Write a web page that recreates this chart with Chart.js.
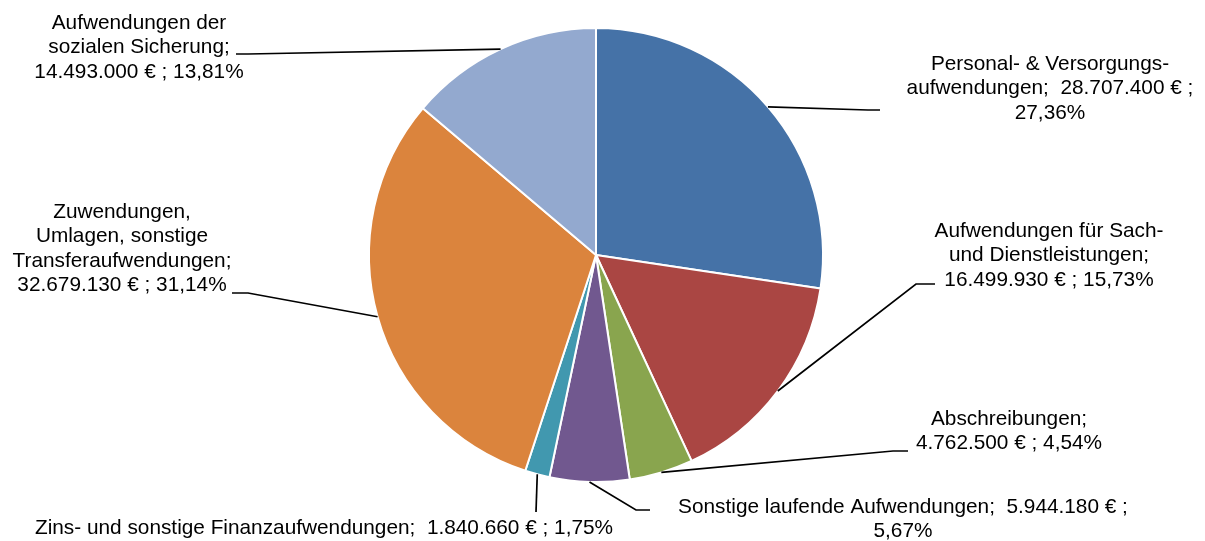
<!DOCTYPE html>
<html>
<head>
<meta charset="utf-8">
<script src="https://cdn.jsdelivr.net/npm/chart.js@4"></script>
<style>
  html, body { margin: 0; padding: 0; background: #fff; }
  #wrap { width: 1205px; height: 541px; }
</style>
</head>
<body>
<div id="wrap"><canvas id="pie" width="1205" height="541"></canvas></div>
<script>
// Daten
const categories = [
    'Personal- & Versorgungsaufwendungen',
    'Aufwendungen für Sach- und Dienstleistungen',
    'Abschreibungen',
    'Sonstige laufende Aufwendungen',
    'Zins- und sonstige Finanzaufwendungen',
    'Zuwendungen, Umlagen, sonstige Transferaufwendungen',
    'Aufwendungen der sozialen Sicherung'
];
const values = [28707400, 16499930, 4762500, 5944180, 1840660, 32679130, 14493000];
const colors = ['#4572A7', '#AA4643', '#89A54E', '#71588F', '#4198AF', '#DB843D', '#93A9CF'];

// Zeilenumbrüche der Beschriftungen ({v} = Betrag, {p} = Anteil)
const labelLines = [
    ['Personal- & Versorgungs-', 'aufwendungen;  {v} € ;', '{p}'],
    ['Aufwendungen für Sach-', 'und Dienstleistungen;', '{v} € ; {p}'],
    ['Abschreibungen;', '{v} € ; {p}'],
    ['Sonstige laufende Aufwendungen;  {v} € ;', '{p}'],
    ['Zins- und sonstige Finanzaufwendungen;  {v} € ; {p}'],
    ['Zuwendungen,', 'Umlagen, sonstige', 'Transferaufwendungen;', '{v} € ; {p}'],
    ['Aufwendungen der', 'sozialen Sicherung;', '{v} € ; {p}']
];
// Position der Beschriftung (Mitte x, y der ersten Zeile) und Knick der Führungslinie
const labelPos = [[1050, 64], [1049, 231], [1009, 419], [903, 507], [324, 528], [122, 212], [139, 23]];
const leaderBend = [[868, 110, 880], [916, 284, 935], [893, 451, 908], [636, 510, 650], [536, 512, 536], [248, 293, 232], [248, 54, 236]];

const total = values.reduce((a, b) => a + b, 0);

function fmtEuro(v) {
    return String(v).replace(/\B(?=(\d{3})+(?!\d))/g, '.');
}
function fmtPct(v) {
    return (v / total * 100).toFixed(2).replace('.', ',') + '%';
}

const labelPlugin = {
    id: 'pieLabels',
    afterDraw(chart) {
        const ctx = chart.ctx;
        const arcs = chart.getDatasetMeta(0).data;
        ctx.save();
        // Führungslinien
        ctx.strokeStyle = '#000';
        ctx.lineWidth = 1.7;
        arcs.forEach((arc, i) => {
            const mid = (arc.startAngle + arc.endAngle) / 2;
            const ax = arc.x + Math.cos(mid) * arc.outerRadius;
            const ay = arc.y + Math.sin(mid) * arc.outerRadius;
            const b = leaderBend[i];
            ctx.beginPath();
            ctx.moveTo(ax, ay);
            ctx.lineTo(b[0], b[1]);
            ctx.lineTo(b[2], b[1]);
            ctx.stroke();
        });
        // Texte
        ctx.fillStyle = '#000';
        ctx.font = '20.8px "Liberation Sans", Arial, sans-serif';
        ctx.textAlign = 'center';
        ctx.textBaseline = 'middle';
        labelLines.forEach((lines, i) => {
            const [cx, cy] = labelPos[i];
            lines.forEach((t, k) => {
                const txt = t.replace('{v}', fmtEuro(values[i])).replace('{p}', fmtPct(values[i]));
                ctx.fillText(txt, cx, cy + k * 24.5);
            });
        });
        ctx.restore();
    }
};

new Chart(document.getElementById('pie'), {
    type: 'pie',
    data: {
        labels: categories,
        datasets: [{
            data: values,
            backgroundColor: colors,
            borderColor: '#fff',
            borderWidth: 2
        }]
    },
    options: {
        responsive: false,
        animation: false,
        layout: { padding: { top: 27, bottom: 58, left: 368, right: 381 } },
        plugins: {
            legend: { display: false },
            tooltip: { enabled: false }
        }
    },
    plugins: [labelPlugin]
});
</script>
</body>
</html>
